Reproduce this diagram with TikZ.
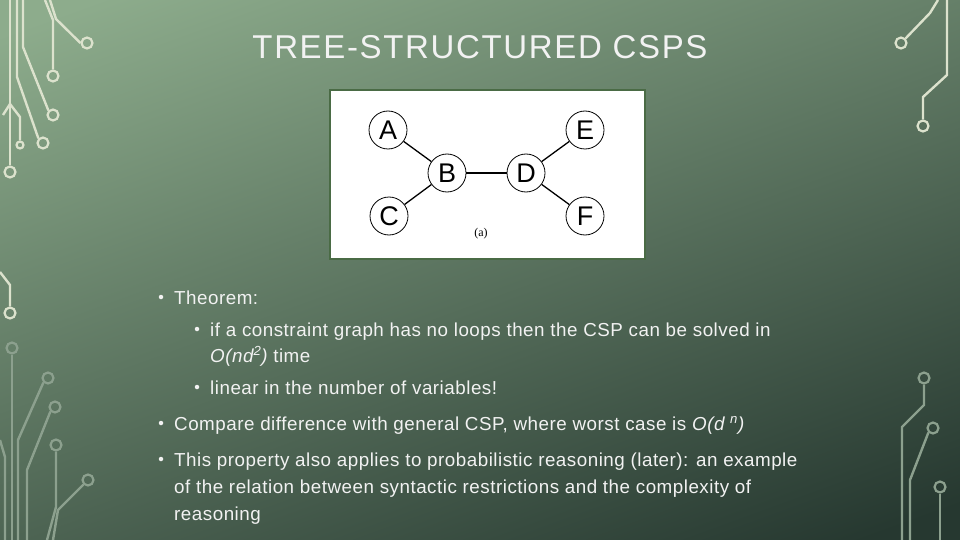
\documentclass[tikz,border=0pt]{standalone}
\usepackage{fontspec}
\setmainfont{Liberation Sans}
\newfontfamily\serifb{Liberation Serif}
\newfontfamily\spaced[LetterSpace=2.7]{Liberation Sans}
\newfontfamily\titlef[LetterSpace=5]{Liberation Sans}
\begin{document}
\begin{tikzpicture}[x=1pt,y=-1pt,
  wire/.style={line width=2.4pt,color=#1},
  wire/.default=wtop,
  pad/.style={circle,draw=#1,line width=2.2pt,inner sep=0pt,minimum size=11pt},
  pad/.default=wtop,
  gnode/.style={circle,draw=black,line width=0.8pt,fill=white,minimum size=38pt,inner sep=0pt,font=\fontsize{27}{27}\selectfont},
  edge/.style={line width=1.3pt,black},
  txt/.style={anchor=base west,inner sep=0pt,text=txtc,font=\spaced\fontsize{18.8}{20}\selectfont},
  bul/.style={circle,fill=txtc,inner sep=0pt,minimum size=4.5pt}]
\definecolor{wtop}{HTML}{DCE2CD}
\definecolor{wbot}{HTML}{8CA08E}
\definecolor{txtc}{HTML}{F2F2F2}
\definecolor{bgtop}{HTML}{8DAC8C}
\definecolor{bgbot}{HTML}{263830}
\useasboundingbox (0,0) rectangle (960,540);
\shade[top color=bgtop,bottom color=bgbot,shading angle=20] (-60,-60) rectangle (1020,600);
% left top circuitry
\node[pad] (p1) at (53,76) {};
\draw[wire] (45,0) -- (53,20) -- (p1.north);
\node[pad] (p2) at (87,43) {};
\draw[wire] (50,0) -- (56,19) -- (p2.west);
\node[pad] (p3) at (53,115) {};
\draw[wire] (23,0) -- (23,47) -- (p3.north west);
\node[pad] (p4) at (43,143) {};
\draw[wire] (17,0) -- (17,77) -- (p4.north west);
\node[pad,minimum size=7pt] (p5) at (20,145) {};
\draw[wire] (3,115) -- (10,104) -- (20,117) -- (p5.north);
\node[pad] (p6) at (10,172) {};
\draw[wire] (10,0) -- (p6.north);
% left bottom
\node[pad] (p7) at (10,313) {};
\draw[wire] (0,272) -- (10,285) -- (p7.north);
\node[pad,draw=wbot] (p8) at (12,348) {};
\draw[wire=wbot] (p8.south) -- (12,540);
\node[pad,draw=wbot] (p9) at (48,378) {};
\draw[wire=wbot] (p9.south west) -- (18,440) -- (18,540);
\node[pad,draw=wbot] (p10) at (55,407) {};
\draw[wire=wbot] (p10.south west) -- (27,470) -- (27,540);
\node[pad,draw=wbot] (p11) at (56,445) {};
\draw[wire=wbot] (p11.south) -- (56,507) -- (47,540);
\node[pad,draw=wbot] (p12) at (88,480) {};
\draw[wire=wbot] (p12.south west) -- (58,510) -- (53,540);
\draw[wire=wbot] (0,440) -- (5,457) -- (5,540);
% right
\node[pad] (r1) at (901,43) {};
\draw[wire] (938,0) -- (930,13) -- (r1.north east);
\node[pad] (r2) at (923,126) {};
\draw[wire] (947,0) -- (947,75) -- (923,97) -- (r2.north);
\node[pad,draw=wbot] (r3) at (924,378) {};
\draw[wire=wbot] (r3.south) -- (924,405) -- (902,427) -- (902,540);
\node[pad,draw=wbot] (r4) at (933,428) {};
\draw[wire=wbot] (r4.south west) -- (910,480) -- (910,540);
\node[pad,draw=wbot] (r5) at (940,487) {};
\draw[wire=wbot] (r5.south) -- (940,540);
% title
\node[text=txtc,font=\titlef\fontsize{33}{33}\selectfont] (title) at (480,47) {TREE-STRUCTURED CSPS};
% graph box
\node[draw={rgb,255:red,74;green,107;blue,69},line width=2pt,fill=white,minimum width=315pt,minimum height=169pt,inner sep=0pt] (box) at (487.5,174.5) {};
\node[gnode] (A) at (388,130) {A};
\node[gnode] (B) at (447,173) {B};
\node[gnode] (C) at (389,216) {C};
\node[gnode] (D) at (526,173) {D};
\node[gnode] (E) at (585,130) {E};
\node[gnode] (F) at (585,216) {F};
\draw[edge] (A) -- (B);
\draw[edge] (C) -- (B);
\draw[edge] (B) -- (D);
\draw[edge] (D) -- (E);
\draw[edge] (D) -- (F);
\node[font=\serifb\fontsize{12}{12}\selectfont] (lab) at (481,234) {(a)};
% bullets
\node[bul] (b1) at (161,297) {};
\node[txt] (t1) at (174,304) {Theorem:};
\node[bul] (b2) at (197,329) {};
\node[txt] (t2) at (210,336) {if a constraint graph has no loops then the CSP can be solved in};
\node[txt] (t3) at (210,362) {\itshape O(nd\textsuperscript{2})\upshape{} time};
\node[bul] (b3) at (197,387) {};
\node[txt] (t4) at (210,394) {linear in the number of variables!};
\node[bul] (b4) at (161,423) {};
\node[txt] (t5) at (174,430) {Compare difference with general CSP, where worst case is \itshape O(d \textsuperscript{n})};
\node[bul] (b5) at (161,459) {};
\node[txt] (t6) at (174,466) {This property also applies to probabilistic reasoning (later): an example};
\node[txt] (t7) at (174,493) {of the relation between syntactic restrictions and the complexity of};
\node[txt] (t8) at (174,520) {reasoning};
\end{tikzpicture}
\end{document}
